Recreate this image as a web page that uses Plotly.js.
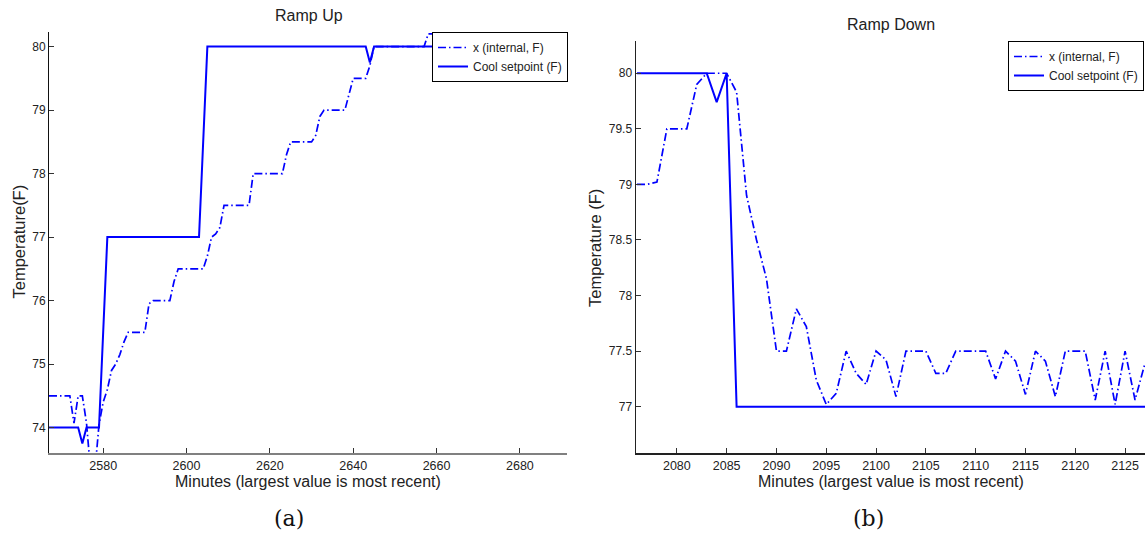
<!DOCTYPE html>
<html>
<head>
<meta charset="utf-8">
<script src="https://cdn.plot.ly/plotly-3.0.1.min.js"></script>
<style>
  html, body { margin: 0; padding: 0; background: #ffffff; }
  #chart { width: 1148px; height: 533px; }
</style>
</head>
<body>
<div id="chart"></div>
<script>
// ---- Ramp Up (a) ----
const upInternalMin = [2567, 2572, 2573, 2574, 2575, 2576, 2577, 2578, 2579, 2580, 2581, 2582, 2583, 2584, 2585, 2586,
                       2590, 2591, 2592, 2596, 2597, 2598, 2604, 2605, 2606, 2607, 2608, 2609, 2615, 2616, 2623,
                       2624, 2625, 2630, 2631, 2632, 2633, 2638, 2639, 2640, 2643, 2644, 2645, 2657, 2658, 2660];
const upInternalF   = [74.5, 74.5, 74.07, 74.5, 74.5, 74.07, 73.3, 73.3, 74.05, 74.4, 74.6, 74.9, 75.0, 75.15, 75.35, 75.5,
                       75.5, 75.95, 76.0, 76.0, 76.3, 76.5, 76.5, 76.7, 77.0, 77.05, 77.15, 77.5, 77.5, 78.0, 78.0,
                       78.3, 78.5, 78.5, 78.6, 78.9, 79.0, 79.0, 79.25, 79.5, 79.5, 79.7, 80.0, 80.0, 80.2, 80.2];

const upSetpointMin = [2567, 2574, 2575, 2576, 2579, 2581, 2603, 2605, 2643, 2644, 2645, 2660];
const upSetpointF   = [74, 74, 73.75, 74, 74, 77, 77, 80, 80, 79.75, 80, 80];

const upTickVals = [2580, 2600, 2620, 2640, 2660, 2680];
const upTempTicks = [74, 75, 76, 77, 78, 79, 80];

// ---- Ramp Down (b) ----
const downInternalMin = [2076, 2077, 2078, 2079, 2080, 2081, 2082, 2083, 2084, 2085, 2086, 2087, 2088, 2089, 2090,
                         2091, 2092, 2093, 2094, 2095, 2096, 2097, 2098, 2099, 2100, 2101, 2102, 2103, 2104, 2105,
                         2106, 2107, 2108, 2109, 2110, 2111, 2112, 2113, 2114, 2115, 2116, 2117, 2118, 2119, 2120,
                         2121, 2122, 2123, 2124, 2125, 2126, 2127];
const downInternalF   = [79.0, 79.0, 79.02, 79.5, 79.5, 79.5, 79.9, 80.0, 80.0, 80.0, 79.83, 78.9, 78.5, 78.15, 77.5,
                         77.5, 77.88, 77.72, 77.24, 77.02, 77.12, 77.5, 77.3, 77.2, 77.5, 77.42, 77.09, 77.5, 77.5, 77.5,
                         77.3, 77.3, 77.5, 77.5, 77.5, 77.5, 77.25, 77.5, 77.41, 77.11, 77.5, 77.41, 77.09, 77.5, 77.5,
                         77.5, 77.06, 77.5, 77.02, 77.5, 77.06, 77.39];

const downSetpointMin = [2076, 2083, 2084, 2085, 2086, 2127];
const downSetpointF   = [80, 80, 79.74, 80, 77, 77];

const downTickVals = [2080, 2085, 2090, 2095, 2100, 2105, 2110, 2115, 2120, 2125];
const downTempTicks = [77, 77.5, 78, 78.5, 79, 79.5, 80];

const seriesNames = ['x (internal, F)', 'Cool setpoint (F)'];

// ---- figure geometry (pixels) ----
const W = 1148, H = 533;
const px = v => v / W;
const py = v => 1 - v / H;

const SANS = 'Liberation Sans, Arial, Helvetica, sans-serif';
const BLUE = '#0000ff';
const DASHDOT = '8px,3px,1.5px,3px';

const traces = [
  { x: upInternalMin, y: upInternalF, xaxis: 'x', yaxis: 'y', mode: 'lines', name: seriesNames[0],
    legend: 'legend', line: { color: BLUE, width: 1.7, dash: DASHDOT } },
  { x: upSetpointMin, y: upSetpointF, xaxis: 'x', yaxis: 'y', mode: 'lines', name: seriesNames[1],
    legend: 'legend', line: { color: BLUE, width: 2 } },
  { x: downInternalMin, y: downInternalF, xaxis: 'x2', yaxis: 'y2', mode: 'lines', name: seriesNames[0],
    legend: 'legend2', line: { color: BLUE, width: 1.7, dash: DASHDOT } },
  { x: downSetpointMin, y: downSetpointF, xaxis: 'x2', yaxis: 'y2', mode: 'lines', name: seriesNames[1],
    legend: 'legend2', line: { color: BLUE, width: 2 } }
];

const axisCommon = {
  showgrid: false, zeroline: false, showline: true,
  ticks: 'inside', ticklen: 5, tickwidth: 1, tickcolor: '#333',
  fixedrange: true
};

function ann(text, x, y, size, extra) {
  return Object.assign({
    text: text, xref: 'paper', yref: 'paper', x: px(x), y: py(y),
    xanchor: 'center', yanchor: 'middle', showarrow: false,
    font: { family: SANS, size: size, color: '#222' }
  }, extra || {});
}

const legendStyle = {
  xanchor: 'right', yanchor: 'top',
  bgcolor: '#ffffff', bordercolor: '#000', borderwidth: 1,
  font: { family: SANS, size: 12, color: '#222' }, tracegroupgap: 0
};

const layout = {
  width: W, height: H,
  margin: { l: 0, r: 0, t: 0, b: 0 },
  paper_bgcolor: '#ffffff', plot_bgcolor: '#ffffff',
  font: { family: SANS, color: '#222' },
  xaxis: Object.assign({}, axisCommon, {
    domain: [px(49), px(567)], range: [2567, 2691.3], anchor: 'y',
    tickvals: upTickVals, tickfont: { size: 12.5, color: '#222' },
    linecolor: '#808080', linewidth: 2
  }),
  yaxis: Object.assign({}, axisCommon, {
    domain: [py(453), py(32)], range: [73.6, 80.23], anchor: 'x',
    tickvals: upTempTicks, tickfont: { size: 12, color: '#222' },
    linecolor: '#111', linewidth: 1
  }),
  xaxis2: Object.assign({}, axisCommon, {
    domain: [px(636), px(1145)], range: [2075.9, 2127], anchor: 'y2',
    tickvals: downTickVals, tickfont: { size: 12.5, color: '#222' },
    linecolor: '#222', linewidth: 1.5
  }),
  yaxis2: Object.assign({}, axisCommon, {
    domain: [py(453), py(41)], range: [76.583, 80.29], anchor: 'x2',
    tickvals: downTempTicks, tickfont: { size: 12, color: '#222' },
    linecolor: '#222', linewidth: 1.5
  }),
  legend: Object.assign({ x: px(568), y: py(32) }, legendStyle),
  legend2: Object.assign({ x: px(1144), y: py(41) }, legendStyle),
  annotations: [
    ann('Ramp Up', 308.5, 15.5, 16),
    ann('Ramp Down', 890.5, 25, 16),
    ann('Minutes (largest value is most recent)', 308, 481, 16),
    ann('Minutes (largest value is most recent)', 890.5, 481, 16),
    ann('Temperature(F)', 18, 241.5, 16.5, { textangle: -90 }),
    ann('Temperature (F)', 595, 248, 16.5, { textangle: -90 }),
    ann('(a)', 289, 518, 22, { font: { family: 'DejaVu Serif, Liberation Serif, serif', size: 22, color: '#111' } }),
    ann('(b)', 868, 518, 22, { font: { family: 'DejaVu Serif, Liberation Serif, serif', size: 22, color: '#111' } })
  ],
  showlegend: true
};

Plotly.newPlot('chart', traces, layout, { displayModeBar: false, staticPlot: true });
</script>
</body>
</html>
